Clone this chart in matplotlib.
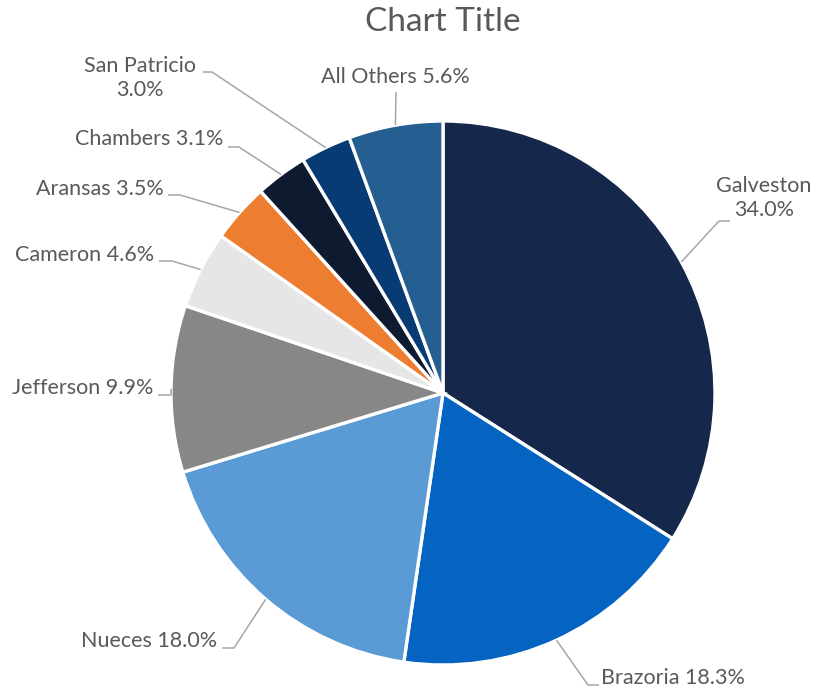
import numpy as np
import matplotlib
matplotlib.use("Agg")
import matplotlib.pyplot as plt

# ---- data ----
categories = ["Galveston", "Brazoria", "Nueces", "Jefferson", "Cameron",
              "Aransas", "Chambers", "San Patricio", "All Others"]
shares = [34.0, 18.3, 18.0, 9.9, 4.6, 3.5, 3.1, 3.0, 5.6]
label_texts = ["Galveston\n34.0%", "Brazoria 18.3%", "Nueces 18.0%", "Jefferson 9.9%",
               "Cameron 4.6%", "Aransas 3.5%", "Chambers 3.1%", "San Patricio\n3.0%",
               "All Others 5.6%"]
colors = ["#15284B", "#0563C1", "#5B9BD5", "#878787", "#E6E6E6",
          "#ED7D31", "#0E1A30", "#073B73", "#255E91"]
title = "Chart Title"

# ---- layout (pixel coords, y downward) ----
W, H = 816, 689
cx, cy, R = 443, 393, 272
# elbow points and horizontal-segment end for leader lines
elbows = [(719, 221), (588, 685), (234, 648), (171, 395), (172, 261),
          (180, 195), (239, 147), (212, 72), (396, 92)]
ends = [(730, 221), (599, 685), (222, 648), (158, 395), (159, 261),
        (168, 195), (228, 147), (203, 72), (396, 92)]
text_pos = [(764, 198, "center"), (601, 678, "left"), (217, 641, "right"),
            (153, 388, "right"), (154, 255, "right"), (164, 189, "right"),
            (223, 139, "right"), (140, 78, "center"), (395, 77, "center")]

FONT = "Lato"
TXT = "#595959"
LINE = "#A6A6A6"

fig = plt.figure(figsize=(W / 100, H / 100), dpi=100)
ax = fig.add_axes([0, 0, 1, 1])

def py(y):
    return H - y

wedges, _ = ax.pie(shares, colors=colors, startangle=90, counterclock=False,
                   center=(cx, py(cy)), radius=R,
                   wedgeprops=dict(edgecolor="white", linewidth=2.4))
ax.set_xlim(0, W)
ax.set_ylim(0, H)
ax.set_aspect("equal")
ax.axis("off")

for w, lab, el, en, tp in zip(wedges, label_texts, elbows, ends, text_pos):
    mid = np.deg2rad((w.theta1 + w.theta2) / 2)
    sx = cx + R * np.cos(mid)
    sy = py(cy) + R * np.sin(mid)
    ax.plot([sx, el[0], en[0]], [sy, py(el[1]), py(en[1])], color=LINE, lw=1.1,
            solid_capstyle="butt", zorder=1)
    ax.text(tp[0], py(tp[1]), lab, ha=tp[2], va="center", color=TXT,
            fontsize=15.5, family=FONT, linespacing=1.3)

ax.text(443, py(22), title, ha="center", va="center", color=TXT,
        fontsize=24, family=FONT)

fig.savefig("out.png", dpi=100)
